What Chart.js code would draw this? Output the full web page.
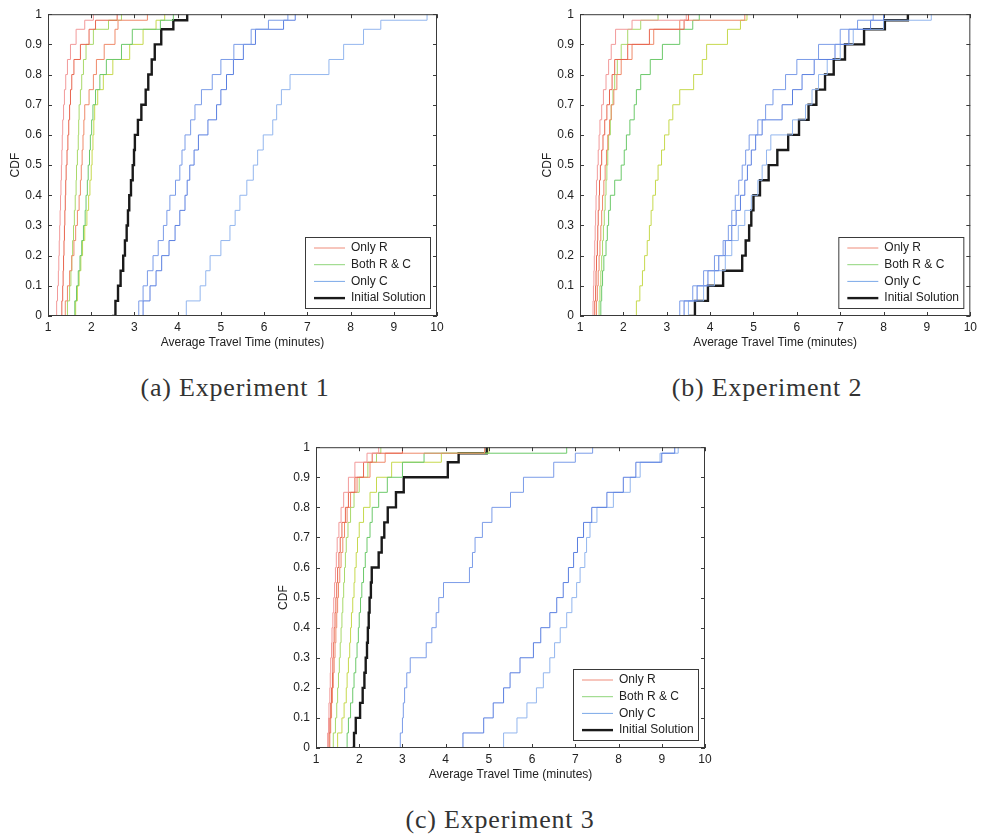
<!DOCTYPE html>
<html lang="en">
<head>
<meta charset="UTF-8">
<title>CDF of Average Travel Time</title>
<script src="https://cdn.jsdelivr.net/npm/chart.js"></script>
<style>
  body {
    margin: 0;
    background: #fff;
    width: 981px;
    height: 834px;
    position: relative;
    overflow: hidden;
  }
  .panel { position: absolute; }
  .caption {
    position: absolute;
    font-family: "Liberation Serif", "DejaVu Serif", serif;
    font-size: 26px;
    letter-spacing: 0.8px;
    line-height: 30px;
    color: #333;
    transform: translateX(-50%);
    white-space: nowrap;
  }
</style>
</head>
<body>
<div class="panel" id="pa"><canvas id="ca"></canvas></div>
<div class="panel" id="pb"><canvas id="cb"></canvas></div>
<div class="panel" id="pc"><canvas id="cc"></canvas></div>
<div class="caption" id="capA" style="left:235px; top:373px;"></div>
<div class="caption" id="capB" style="left:767px; top:373px;"></div>
<div class="caption" id="capC" style="left:500px; top:805px;"></div>

<script>
// CDF levels shared by every curve; each curve lists the travel time at which it reaches that level
const cdfLevels = [0, 0.05, 0.1, 0.15, 0.2, 0.25, 0.3, 0.35, 0.4, 0.45, 0.5, 0.55, 0.6, 0.65, 0.7, 0.75, 0.8, 0.85, 0.9, 0.95, 0.98, 1];
const xTicks = [1, 2, 3, 4, 5, 6, 7, 8, 9, 10];
const yTicks = [0, 0.1, 0.2, 0.3, 0.4, 0.5, 0.6, 0.7, 0.8, 0.9, 1];
const yTickLabels = ["0", "0.1", "0.2", "0.3", "0.4", "0.5", "0.6", "0.7", "0.8", "0.9", "1"];
const legendLabels = ["Only R", "Both R & C", "Only C", "Initial Solution"];
const captions = ["(a) Experiment 1", "(b) Experiment 2", "(c) Experiment 3"];

// Experiment 1
const e1OnlyR1 = [1.18,1.2,1.22,1.24,1.25,1.26,1.27,1.28,1.29,1.3,1.31,1.32,1.33,1.34,1.36,1.38,1.41,1.45,1.52,1.65,1.85,2.05];
const e1OnlyR2 = [1.3,1.32,1.34,1.35,1.36,1.37,1.38,1.39,1.4,1.41,1.42,1.44,1.46,1.48,1.5,1.52,1.55,1.6,1.75,1.95,2.1,2.6];
const e1OnlyR3 = [1.35,1.4,1.45,1.5,1.55,1.6,1.64,1.68,1.72,1.75,1.77,1.79,1.81,1.83,1.85,1.95,2.05,2.12,2.3,2.55,2.62,3.3];
const e1BothRC1 = [1.38,1.45,1.5,1.53,1.55,1.57,1.59,1.61,1.63,1.65,1.66,1.68,1.7,1.71,1.72,1.75,1.78,1.82,1.88,2.05,2.4,2.7];
const e1BothRC2 = [1.58,1.62,1.66,1.7,1.74,1.78,1.82,1.86,1.88,1.91,1.93,1.96,1.98,2.01,2.04,2.1,2.2,2.35,2.7,2.95,3.6,3.9];
const e1BothRC3 = [1.6,1.64,1.68,1.72,1.76,1.8,1.85,1.9,1.94,1.97,2.0,2.02,2.04,2.06,2.08,2.15,2.28,2.5,2.89,3.2,3.5,3.7];
const e1OnlyC1 = [2.85,3.1,3.2,3.3,3.43,3.55,3.67,3.75,3.82,3.95,4.05,4.1,4.17,4.3,4.4,4.55,4.8,5.0,5.3,5.7,6.1,6.55];
const e1OnlyC2 = [3.0,3.2,3.36,3.5,3.63,3.8,3.94,4.05,4.17,4.22,4.28,4.38,4.48,4.7,4.9,5.0,5.13,5.29,5.52,5.8,6.45,6.72];
const e1OnlyC3 = [3.9,4.2,4.52,4.65,4.75,5.0,5.21,5.33,5.44,5.6,5.75,5.85,5.98,6.2,6.29,6.4,6.6,7.5,7.84,8.3,8.7,9.77];
const e1Initial = [2.48,2.56,2.62,2.68,2.74,2.78,2.82,2.85,2.88,2.92,2.96,2.99,3.01,3.08,3.16,3.26,3.32,3.4,3.47,3.62,3.9,4.22];

// Experiment 2
const e2OnlyR1 = [1.28,1.3,1.31,1.32,1.33,1.34,1.35,1.36,1.37,1.38,1.4,1.42,1.44,1.46,1.5,1.54,1.6,1.66,1.72,1.82,2.2,3.45];
const e2OnlyR2 = [1.32,1.34,1.36,1.37,1.38,1.4,1.41,1.42,1.44,1.45,1.47,1.5,1.53,1.57,1.62,1.68,1.74,1.8,2.1,2.6,3.4,3.5];
const e2OnlyR3 = [1.36,1.38,1.4,1.42,1.44,1.46,1.48,1.5,1.52,1.55,1.58,1.61,1.64,1.68,1.72,1.78,1.85,1.95,2.2,2.7,3.3,4.8];
const e2BothRC1 = [1.42,1.44,1.46,1.48,1.5,1.52,1.54,1.56,1.58,1.6,1.62,1.64,1.66,1.7,1.72,1.76,1.8,1.86,1.95,2.1,2.4,2.8];
const e2BothRC2 = [1.46,1.48,1.5,1.52,1.55,1.6,1.63,1.66,1.7,1.8,1.95,2.02,2.07,2.15,2.25,2.3,2.4,2.62,2.9,3.3,3.6,3.75];
const e2BothRC3 = [2.15,2.3,2.38,2.44,2.49,2.55,2.6,2.64,2.68,2.74,2.8,2.88,2.95,3.05,3.14,3.3,3.62,3.82,3.92,4.4,4.7,4.85];
const e2OnlyC1 = [2.99,3.3,3.6,3.85,4.1,4.3,4.42,4.5,4.58,4.66,4.74,4.82,4.9,5.1,5.28,5.45,5.74,6.0,6.5,7.0,7.4,7.76];
const e2OnlyC2 = [3.15,3.4,3.7,3.95,4.2,4.35,4.5,4.6,4.7,4.8,4.86,4.95,5.05,5.2,5.66,5.9,6.12,6.4,6.88,7.2,7.7,8.0];
const e2OnlyC3 = [3.2,3.5,3.85,4.1,4.35,4.5,4.65,4.8,4.95,5.1,5.2,5.3,5.4,5.9,6.2,6.35,6.5,6.7,7.0,7.3,8.0,9.1];
const e2Initial = [3.5,3.65,3.95,4.3,4.74,4.82,4.9,4.95,5.0,5.15,5.35,5.55,5.8,6.05,6.27,6.45,6.65,6.85,7.11,7.55,8.03,8.56];

// Experiment 3
const e3OnlyR1 = [1.24,1.27,1.29,1.3,1.32,1.33,1.34,1.36,1.37,1.39,1.41,1.43,1.45,1.47,1.49,1.53,1.58,1.64,1.75,1.9,2.18,2.45];
const e3OnlyR2 = [1.28,1.3,1.32,1.34,1.36,1.38,1.39,1.4,1.42,1.44,1.46,1.48,1.5,1.53,1.56,1.6,1.68,1.75,1.9,2.1,2.3,3.0];
const e3OnlyR3 = [1.3,1.32,1.34,1.36,1.38,1.4,1.42,1.44,1.46,1.48,1.5,1.52,1.55,1.58,1.62,1.66,1.72,1.8,1.95,2.25,2.6,4.9];
const e3BothRC1 = [1.35,1.4,1.45,1.48,1.5,1.52,1.54,1.56,1.58,1.6,1.62,1.64,1.66,1.68,1.7,1.74,1.8,1.88,2.0,2.2,2.4,2.5];
const e3BothRC2 = [1.7,1.72,1.75,1.8,1.85,1.88,1.92,1.95,1.98,2.0,2.03,2.06,2.1,2.14,2.18,2.25,2.3,2.45,2.65,3.0,3.5,6.8];
const e3BothRC3 = [1.4,1.5,1.6,1.65,1.7,1.72,1.75,1.78,1.8,1.82,1.85,1.88,1.9,1.93,1.96,2.0,2.1,2.25,2.4,2.75,3.9,5.0];
const e3OnlyC1 = [2.55,2.95,3.0,3.02,3.05,3.1,3.18,3.55,3.68,3.78,3.84,3.95,4.55,4.62,4.68,4.85,5.07,5.5,5.8,6.5,7.0,7.4];
const e3OnlyC2 = [3.87,4.4,4.88,5.1,5.34,5.49,5.72,6.03,6.2,6.41,6.57,6.72,6.84,6.96,7.05,7.19,7.38,7.73,8.11,8.4,9.0,9.3];
const e3OnlyC3 = [5.18,5.34,5.65,5.88,6.1,6.26,6.41,6.52,6.65,6.8,6.92,7.03,7.11,7.22,7.26,7.34,7.5,7.88,8.27,8.5,8.96,9.38];
const e3Initial = [1.83,1.88,1.92,2.02,2.08,2.12,2.15,2.18,2.2,2.22,2.24,2.27,2.29,2.45,2.52,2.58,2.66,2.85,3.03,4.05,4.3,4.95];

const redShades = ["#f29a9a", "#e8654f", "#ef8a6a"];
const greenShades = ["#a9d96a", "#6cc96a", "#c6d94e"];
const blueShades = ["#7b9ce8", "#5a7fe0", "#93b6ee"];
const legendColors = ["#ef8c7a", "#8fd67a", "#7aa8e8", "#1a1a1a"];

const axisColor = "#3a3a3a";
const textColor = "#222";

document.getElementById("capA").textContent = captions[0];
document.getElementById("capB").textContent = captions[1];
document.getElementById("capC").textContent = captions[2];

function curve(xs, color, width) {
  return {
    data: xs.map((x, i) => ({ x: x, y: cdfLevels[i] })),
    borderColor: color,
    borderWidth: width,
    stepped: true,
    pointRadius: 0,
    fill: false
  };
}

function buildDatasets(r, g, c, init) {
  const sets = [];
  r.forEach((xs, i) => sets.push(curve(xs, redShades[i], 1)));
  g.forEach((xs, i) => sets.push(curve(xs, greenShades[i], 1)));
  c.forEach((xs, i) => sets.push(curve(xs, blueShades[i], 1)));
  sets.push(curve(init, "#1a1a1a", 2.4));
  return sets;
}

// box, inward ticks and legend like the original figure
const frame = {
  id: "frame",
  afterDatasetsDraw(chart) {
    const ctx = chart.ctx;
    const a = chart.chartArea;
    const x = chart.scales.x, y = chart.scales.y;
    ctx.save();
    ctx.strokeStyle = axisColor;
    ctx.lineWidth = 1;
    ctx.strokeRect(a.left + 0.5, a.top + 0.5, a.right - a.left - 1, a.bottom - a.top - 1);
    ctx.beginPath();
    xTicks.forEach(v => {
      const px = Math.round(x.getPixelForValue(v)) + 0.5;
      ctx.moveTo(px, a.bottom); ctx.lineTo(px, a.bottom - 4);
      ctx.moveTo(px, a.top); ctx.lineTo(px, a.top + 4);
    });
    yTicks.forEach(v => {
      const py = Math.round(y.getPixelForValue(v)) + 0.5;
      ctx.moveTo(a.left, py); ctx.lineTo(a.left + 4, py);
      ctx.moveTo(a.right, py); ctx.lineTo(a.right - 4, py);
    });
    ctx.stroke();

    // legend
    const w = 125, h = 71;
    const bx = a.right - 7 - w, by = a.bottom - 8 - h;
    ctx.fillStyle = "#fff";
    ctx.fillRect(bx, by, w, h);
    ctx.strokeStyle = axisColor;
    ctx.strokeRect(bx + 0.5, by + 0.5, w, h);
    ctx.font = "12px 'Liberation Sans', Arial, sans-serif";
    ctx.textBaseline = "middle";
    legendLabels.forEach((label, i) => {
      const ly = by + 11 + i * 16.7;
      ctx.beginPath();
      ctx.strokeStyle = legendColors[i];
      ctx.lineWidth = i === 3 ? 2.4 : 1;
      ctx.moveTo(bx + 9, ly); ctx.lineTo(bx + 40, ly);
      ctx.stroke();
      ctx.fillStyle = textColor;
      ctx.fillText(label, bx + 46, ly);
    });
    ctx.restore();
  }
};

function makeChart(panelId, canvasId, box, datasets) {
  const padRight = box.padRight;
  const panel = document.getElementById(panelId);
  const w = (box.R - box.L) + 48 + padRight;
  const h = (box.B - box.T) + 10 + 46;
  panel.style.left = (box.L - 48) + "px";
  panel.style.top = (box.T - 10) + "px";
  panel.style.width = w + "px";
  panel.style.height = h + "px";

  new Chart(document.getElementById(canvasId), {
    type: "line",
    data: { datasets: datasets },
    options: {
      responsive: true,
      maintainAspectRatio: false,
      animation: false,
      layout: { padding: { top: 10, right: padRight, left: 0, bottom: 0 } },
      plugins: { legend: { display: false }, tooltip: { enabled: false } },
      scales: {
        x: {
          type: "linear",
          min: 1,
          max: 10,
          afterBuildTicks: s => { s.ticks = xTicks.map(v => ({ value: v })); },
          afterFit: s => { s.height = 46; },
          grid: { display: false, drawTicks: false, tickLength: 0 },
          border: { display: false },
          ticks: { color: textColor, padding: 4, font: { family: "'Liberation Sans', Arial", size: 12 }, maxRotation: 0 },
          title: { display: true, text: "Average Travel Time (minutes)", color: textColor,
                   font: { family: "'Liberation Sans', Arial", size: 12 }, padding: { top: 0, bottom: 12 } }
        },
        y: {
          min: 0,
          max: 1,
          afterBuildTicks: s => { s.ticks = yTicks.map(v => ({ value: v })); },
          afterFit: s => { s.width = 48; },
          grid: { display: false, drawTicks: false, tickLength: 0 },
          border: { display: false },
          ticks: { color: textColor, padding: 6, font: { family: "'Liberation Sans', Arial", size: 12 },
                   callback: (v, i) => yTickLabels[i] },
          title: { display: true, text: "CDF", color: textColor,
                   font: { family: "'Liberation Sans', Arial", size: 12 }, padding: { top: 8, bottom: 0 } }
        }
      }
    },
    plugins: [frame]
  });
}

makeChart("pa", "ca", { L: 48, T: 11, R: 437, B: 316, padRight: 12 },
  buildDatasets([e1OnlyR1, e1OnlyR2, e1OnlyR3], [e1BothRC1, e1BothRC2, e1BothRC3], [e1OnlyC1, e1OnlyC2, e1OnlyC3], e1Initial));
makeChart("pb", "cb", { L: 580, T: 11, R: 973, B: 316, padRight: 8 },
  buildDatasets([e2OnlyR1, e2OnlyR2, e2OnlyR3], [e2BothRC1, e2BothRC2, e2BothRC3], [e2OnlyC1, e2OnlyC2, e2OnlyC3], e2Initial));
makeChart("pc", "cc", { L: 316, T: 444, R: 705, B: 748, padRight: 12 },
  buildDatasets([e3OnlyR1, e3OnlyR2, e3OnlyR3], [e3BothRC1, e3BothRC2, e3BothRC3], [e3OnlyC1, e3OnlyC2, e3OnlyC3], e3Initial));
</script>
</body>
</html>
